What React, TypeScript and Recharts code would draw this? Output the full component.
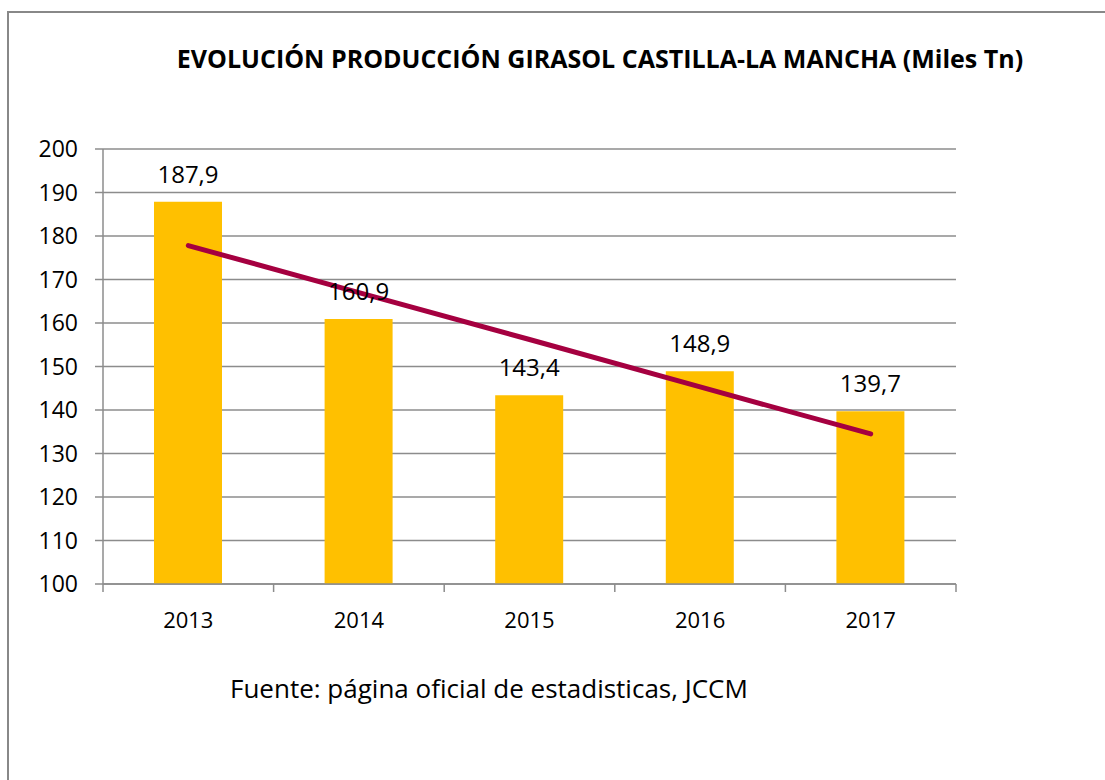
import { ComposedChart, Bar, Line, XAxis, YAxis, CartesianGrid, LabelList } from 'recharts';

const years = ['2013', '2014', '2015', '2016', '2017'];
const produccion = [187.9, 160.9, 143.4, 148.9, 139.7];
// tendencia lineal
const tendencia = [177.8, 167.0, 156.2, 145.3, 134.5];
const yTicks = [100, 110, 120, 130, 140, 150, 160, 170, 180, 190, 200];

const data = years.map((year, i) => ({
  year,
  produccion: produccion[i],
  tendencia: tendencia[i],
}));

const FONT = '"Open Sans", sans-serif';
const GRID = '#8c8c8c';
const PLOT_LEFT = 103;
const PLOT_RIGHT = 956;
const BAND = (PLOT_RIGHT - PLOT_LEFT) / years.length;

const YearTick = (props: any) => {
  const { x, y, payload, index } = props;
  return (
    <g>
      <line x1={x - BAND / 2} y1={y} x2={x - BAND / 2} y2={y + 8} stroke={GRID} strokeWidth={1.5} />
      {index === years.length - 1 && (
        <line x1={x + BAND / 2} y1={y} x2={x + BAND / 2} y2={y + 8} stroke={GRID} strokeWidth={1.5} />
      )}
      <text x={x} y={y + 44} textAnchor="middle" fontSize={22} fontFamily={FONT} fill="#000">
        {payload.value}
      </text>
    </g>
  );
};

export default function App() {
  return (
    <div
      style={{
        position: 'absolute',
        left: 0,
        top: 0,
        width: 1105,
        height: 780,
        overflow: 'hidden',
        background: '#fff',
        fontFamily: FONT,
      }}
    >
      <div
        style={{
          position: 'absolute',
          left: 7,
          top: 11,
          width: 1200,
          height: 900,
          borderTop: '2px solid #888',
          borderLeft: '2px solid #888',
        }}
      />
      <span
        style={{
          position: 'absolute',
          left: 600,
          top: 41,
          transform: 'translateX(-50%)',
          whiteSpace: 'nowrap',
          fontWeight: 700,
          fontSize: 25,
          color: '#000',
        }}
      >
        EVOLUCIÓN PRODUCCIÓN GIRASOL CASTILLA-LA MANCHA (Miles Tn)
      </span>
      <div style={{ position: 'absolute', left: 0, top: 0 }}>
        <ComposedChart
          width={1105}
          height={780}
          data={data}
          margin={{ top: 149, right: 1105 - PLOT_RIGHT, bottom: 166, left: 43 }}
          barSize={68}
        >
          <CartesianGrid vertical={false} stroke={GRID} strokeWidth={1.5} />
          <XAxis
            dataKey="year"
            height={30}
            axisLine={{ stroke: GRID, strokeWidth: 1.5 }}
            tickLine={false}
            tickSize={0}
            tickMargin={0}
            tick={<YearTick />}
            interval={0}
          />
          <YAxis
            width={60}
            domain={[100, 200]}
            ticks={yTicks}
            interval={0}
            axisLine={{ stroke: GRID, strokeWidth: 1.5 }}
            tickLine={{ stroke: GRID, strokeWidth: 1.5 }}
            tickSize={8}
            tickMargin={17}
            tick={{ fontSize: 23, fontFamily: FONT, fill: '#000' }}
          />
          <Bar dataKey="produccion" fill="#FFC000" isAnimationActive={false}>
            <LabelList
              dataKey="produccion"
              position="top"
              offset={19}
              formatter={(v: any) => String(v).replace('.', ',')}
              style={{ fontSize: 24, fontFamily: FONT, fill: '#000' }}
            />
          </Bar>
          <Line
            dataKey="tendencia"
            stroke="#A50040"
            strokeWidth={5}
            strokeLinecap="round"
            dot={false}
            activeDot={false}
            isAnimationActive={false}
          />
        </ComposedChart>
      </div>
      <div
        style={{
          position: 'absolute',
          left: 230,
          top: 670,
          fontSize: 26,
          color: '#000',
          whiteSpace: 'nowrap',
        }}
      >
        Fuente: página oficial de estadisticas, JCCM
      </div>
    </div>
  );
}
